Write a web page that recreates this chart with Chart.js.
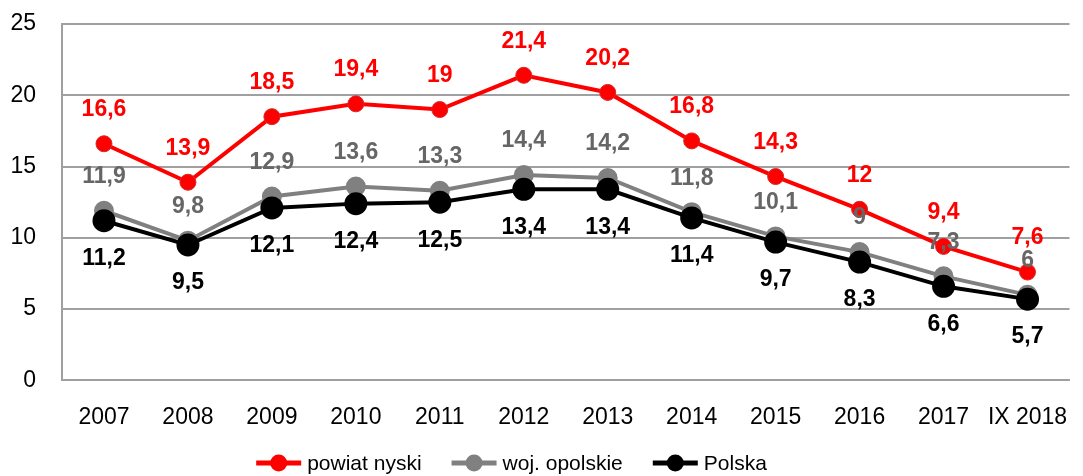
<!DOCTYPE html>
<html>
<head>
<meta charset="utf-8">
<script src="https://cdn.jsdelivr.net/npm/chart.js@4"></script>
<style>
  body { margin: 0; background: #fff; }
</style>
</head>
<body>
<canvas id="chart" width="1083" height="476"></canvas>
<script>
var labels = ["2007", "2008", "2009", "2010", "2011", "2012", "2013", "2014", "2015", "2016", "2017", "IX 2018"];
var nyski = [16.6, 13.9, 18.5, 19.4, 19, 21.4, 20.2, 16.8, 14.3, 12, 9.4, 7.6];
var opolskie = [11.9, 9.8, 12.9, 13.6, 13.3, 14.4, 14.2, 11.8, 10.1, 9, 7.3, 6];
var polska = [11.2, 9.5, 12.1, 12.4, 12.5, 13.4, 13.4, 11.4, 9.7, 8.3, 6.6, 5.7];

var FONT = "'Liberation Sans', Arial, sans-serif";

function fmt(v) {
  return String(v).replace(".", ",");
}

// etykiety wartości nad / pod punktami
var valueLabels = {
  id: "valueLabels",
  afterDatasetsDraw: function (chart) {
    var ctx = chart.ctx;
    ctx.save();
    ctx.font = "bold 23px " + FONT;
    ctx.textAlign = "center";
    ctx.textBaseline = "middle";
    chart.data.datasets.forEach(function (ds, i) {
      var meta = chart.getDatasetMeta(i);
      meta.data.forEach(function (pt, j) {
        var dy = ds.labelPos === "below" ? 38 : -34;
        ctx.fillStyle = ds.labelColor;
        ctx.fillText(fmt(ds.data[j]), pt.x, pt.y + dy);
      });
    });
    ctx.restore();
  }
};

// legenda na dole: linia z kółkiem + tekst
var bottomLegend = {
  id: "bottomLegend",
  afterDraw: function (chart) {
    var ctx = chart.ctx;
    ctx.save();
    ctx.font = "21px " + FONT;
    ctx.textBaseline = "middle";
    var items = chart.data.datasets;
    var lineW = 45, gap = 6, spacing = 30;
    var total = 0;
    items.forEach(function (ds, i) {
      total += lineW + gap + ctx.measureText(ds.label).width;
      if (i < items.length - 1) total += spacing;
    });
    var x = (chart.width - total) / 2 - 30;
    var y = 463;
    items.forEach(function (ds) {
      ctx.strokeStyle = ds.borderColor;
      ctx.lineWidth = 5;
      ctx.beginPath();
      ctx.moveTo(x, y);
      ctx.lineTo(x + lineW, y);
      ctx.stroke();
      ctx.fillStyle = ds.borderColor;
      ctx.beginPath();
      ctx.arc(x + lineW / 2, y, 8.5, 0, Math.PI * 2);
      ctx.fill();
      ctx.fillStyle = "#000";
      ctx.fillText(ds.label, x + lineW + gap, y + 1);
      x += lineW + gap + ctx.measureText(ds.label).width + spacing;
    });
    ctx.restore();
  }
};

var ctx = document.getElementById("chart").getContext("2d");
new Chart(ctx, {
  type: "line",
  data: {
    labels: labels,
    datasets: [
      {
        label: "powiat nyski",
        data: nyski,
        borderColor: "#ff0000",
        backgroundColor: "#ff0000",
        pointBorderColor: "#d42a2a",
        labelColor: "#ff0000",
        labelPos: "above",
        borderWidth: 4,
        pointRadius: 8,
        pointBorderWidth: 1,
        order: 1
      },
      {
        label: "woj. opolskie",
        data: opolskie,
        borderColor: "#808080",
        backgroundColor: "#808080",
        pointBorderColor: "#808080",
        labelColor: "#666666",
        labelPos: "above",
        borderWidth: 4,
        pointRadius: 8,
        order: 3
      },
      {
        label: "Polska",
        data: polska,
        borderColor: "#000000",
        backgroundColor: "#000000",
        pointBorderColor: "#000000",
        labelColor: "#000000",
        labelPos: "below",
        borderWidth: 4,
        pointRadius: 9.5,
        order: 2
      }
    ]
  },
  options: {
    responsive: false,
    animation: false,
    layout: { padding: { top: 24, right: 0, bottom: 22, left: 0 } },
    plugins: {
      legend: { display: false },
      tooltip: { enabled: false }
    },
    scales: {
      x: {
        offset: true,
        afterFit: function (s) { s.paddingLeft = 0; s.paddingRight = 0; },
        grid: { display: false, drawTicks: false },
        border: { color: "#a0a0a0", width: 2 },
        ticks: { color: "#000", font: { family: FONT, size: 23 }, padding: 23, maxRotation: 0 }
      },
      y: {
        min: 0,
        max: 25,
        afterFit: function (s) { s.width = 62; s.paddingTop = 0; s.paddingBottom = 0; },
        grid: { color: "#a0a0a0", lineWidth: 2, drawTicks: false },
        border: { color: "#a0a0a0", width: 2 },
        ticks: { stepSize: 5, color: "#000", font: { family: FONT, size: 23 }, padding: 26 }
      }
    }
  },
  plugins: [valueLabels, bottomLegend]
});
</script>
</body>
</html>
